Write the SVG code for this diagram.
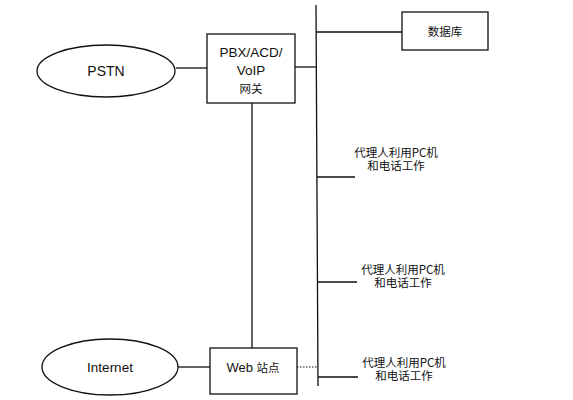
<svg xmlns="http://www.w3.org/2000/svg" width="573" height="400" viewBox="0 0 573 400">
<style>
.s{fill:none;stroke:#111;stroke-width:1.3}
.b{fill:#fff;stroke:#111;stroke-width:1.3}
.t{font-family:"Liberation Sans","Noto Sans CJK SC",sans-serif;fill:#111;text-anchor:middle}
.c{font-family:"Noto Sans CJK SC",sans-serif;fill:#111;font-size:11.5px}
</style>
<rect width="573" height="400" fill="#fff"/>
<g id="connectors">
<line class="s" x1="316" y1="5" x2="318" y2="386"/>
<line class="s" x1="176" y1="68" x2="207" y2="68"/>
<line class="s" x1="295" y1="67" x2="316" y2="67"/>
<line class="s" x1="252" y1="103" x2="252" y2="348"/>
<line class="s" x1="316" y1="32" x2="402" y2="32"/>
<line class="s" x1="317" y1="177" x2="355" y2="177"/>
<line class="s" x1="318" y1="282" x2="357" y2="282"/>
<line class="s" x1="318" y1="377" x2="358" y2="377"/>
<line class="s" x1="178" y1="367" x2="210" y2="367"/>
<line x1="297" y1="367" x2="318" y2="367" stroke="#111" stroke-width="1" stroke-dasharray="1.5,1.5"/>
</g>
<g id="pstn">
<ellipse class="b" cx="106" cy="71" rx="69" ry="26"/>
<text class="t" x="106" y="76" font-size="14">PSTN</text>
</g>
<g id="pbx">
<rect class="b" x="207" y="34" width="88" height="69"/>
<text class="t" x="251" y="57" font-size="13.5">PBX/ACD/</text>
<text class="t" x="251" y="75" font-size="13.5">VoIP</text>
<text class="t c" x="251" y="93" font-size="11">网关</text>
</g>
<g id="db">
<rect class="b" x="402" y="12" width="86" height="38"/>
<text class="t c" x="445" y="36">数据库</text>
</g>
<g id="agent1">
<text class="t c" x="396" y="157">代理人利用PC机</text>
<text class="t c" x="396" y="170">和电话工作</text>
</g>
<g id="agent2">
<text class="t c" x="403" y="274">代理人利用PC机</text>
<text class="t c" x="403" y="287">和电话工作</text>
</g>
<g id="agent3">
<text class="t c" x="404" y="367">代理人利用PC机</text>
<text class="t c" x="404" y="380">和电话工作</text>
</g>
<g id="internet">
<ellipse class="b" cx="110" cy="367" rx="68" ry="28"/>
<text class="t" x="110" y="372" font-size="13.5">Internet</text>
</g>
<g id="web">
<rect class="b" x="210" y="348" width="87" height="46"/>
<text class="t" x="253" y="372" font-size="13">Web <tspan class="c" font-size="12">站点</tspan></text>
</g>
</svg>
